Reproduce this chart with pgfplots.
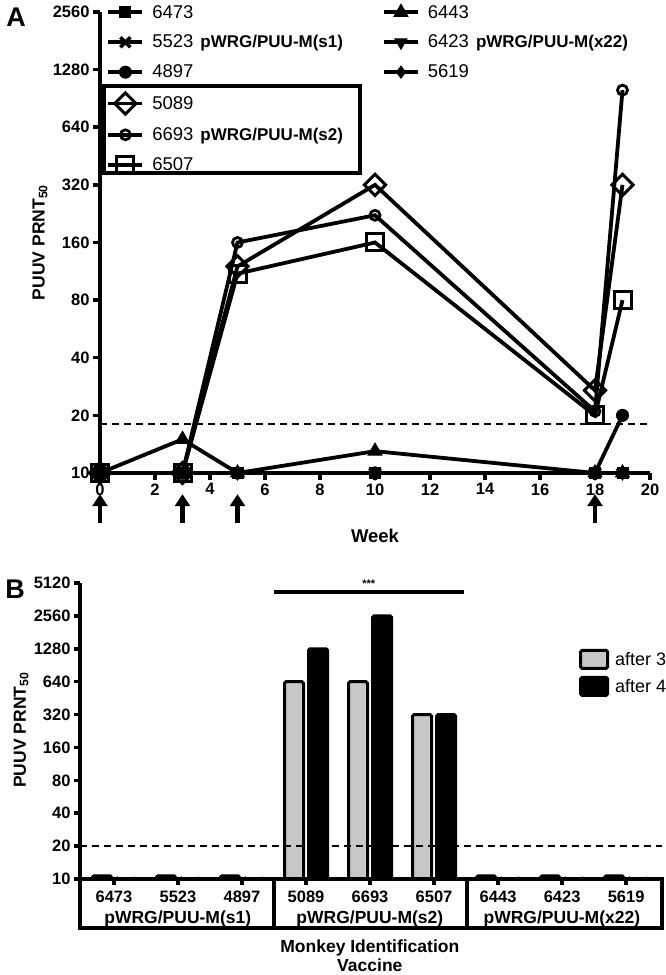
\documentclass[border=0pt]{standalone}
\usepackage{fontspec}
\setmainfont{Liberation Sans}
\usepackage{pgfplots}
\pgfplotsset{compat=1.18}
\usetikzlibrary{arrows.meta}

\pgfplotsset{
  sA/.style={black, line width=3.8pt, mark=square*, mark size=5.5pt, mark options={solid, line width=1pt}},
  sB/.style={black, line width=3.8pt, mark=triangle*, mark size=8pt, mark options={solid, line width=1pt}},
  sC/.style={black, line width=3.8pt, mark=x, mark size=7pt, mark options={solid, line width=3.5pt}},
  sD/.style={black, line width=3.8pt, mark=triangle*, mark size=7pt, mark options={solid, rotate=180, line width=1pt}},
  sE/.style={black, line width=3.8pt, mark=*, mark size=6pt, mark options={solid, line width=1pt}},
  sF/.style={black, line width=3.8pt, mark=diamond*, mark size=6pt, mark options={solid, line width=1pt}},
  sG/.style={black, line width=3.8pt, mark=square, mark size=7.5pt, mark options={solid, rotate=45, fill=white, line width=3pt}},
  sH/.style={black, line width=3.8pt, mark=o, mark size=5pt, mark options={solid, fill=white, line width=2.8pt}},
  sI/.style={black, line width=3.8pt, mark=square, mark size=8.5pt, mark options={solid, fill=white, line width=3pt}},
}
\tikzset{arr/.style={line width=4.5pt, -{Triangle[width=15pt,length=12pt]}}}

\begin{document}
\begin{tikzpicture}
\useasboundingbox (0pt,0pt) rectangle (666pt,975pt);

\node[font=\fontsize{27}{27}\selectfont\bfseries] at (16pt,958pt) {A};
\node[font=\fontsize{27}{27}\selectfont\bfseries] at (15pt,386pt) {B};

% ---------------- Panel A ----------------
\begin{axis}[
  at={(100pt,502pt)}, anchor=south west,
  scale only axis, width=550pt, height=461pt,
  xmin=0, xmax=20, ymin=10, ymax=2560,
  ymode=log, log basis y=2,
  axis x line*=bottom, axis y line*=left,
  axis line style={line width=4pt, -},
  xtick={0,2,...,20},
  ytick={10,20,40,80,160,320,640,1280,2560},
  yticklabels={10,20,40,80,160,320,640,1280,2560},
  tick style={line width=3.5pt, black},
  major tick length=7pt, tick align=outside,
  ticklabel style={font=\fontsize{16.5}{16.5}\selectfont\bfseries},
  /pgf/number format/assume math mode=true,
  clip=false,
  xlabel={Week},
  xlabel style={at={(axis description cs:0.5,-0.137)}, anchor=center, font=\fontsize{18.5}{18.5}\selectfont\bfseries},
  ylabel={PUUV PRNT\textsubscript{50}},
  ylabel style={at={(axis description cs:-0.109,0.5)}, anchor=center, font=\fontsize{17.5}{17.5}\selectfont\bfseries},
  legend columns=2,
  legend cell align=left,
  legend style={draw=none, fill=none, at={(rel axis cs:0.006,1.024)}, anchor=north west,
    font=\fontsize{18.5}{20}\selectfont, row sep=11.5pt,
    /tikz/every odd column/.append style={column sep=6pt},
    /tikz/every even column/.append style={column sep=37pt}},
  legend image code/.code={\draw[#1, mark repeat=2, mark phase=2] plot coordinates {(0pt,0pt) (17pt,0pt) (34pt,0pt)};},
]
% threshold
\addplot[forget plot, black, line width=2.3pt, dash pattern=on 7pt off 5pt] coordinates {(0,18) (20,18)};

% filled series
\addplot[sA, forget plot] coordinates {(0,10) (3,10) (5,10) (10,10) (18,10) (19,10)};
\addplot[sC, forget plot] coordinates {(0,10) (3,10) (5,10) (10,10) (18,10) (19,10)};
\addplot[sD, forget plot] coordinates {(0,10) (3,10) (5,10) (10,10) (18,10) (19,10)};
\addplot[sF, forget plot] coordinates {(0,10) (3,10) (5,10) (10,10) (18,10) (19,10)};
\addplot[sB, forget plot] coordinates {(0,10) (3,15) (5,10) (10,13) (18,10) (19,10)};
\addplot[sE, forget plot] coordinates {(0,10) (3,10) (5,10) (10,10) (18,10) (19,20)};
% open series
\addplot[sI, forget plot] coordinates {(0,10) (3,10) (5,110) (10,160) (18,20) (19,80)};
\addplot[sH, forget plot] coordinates {(0,10) (3,10) (5,160) (10,222) (18,21) (19,1000)};
\addplot[sG, forget plot] coordinates {(0,10) (3,10) (5,120) (10,320) (18,27) (19,320)};

% legend
\addlegendimage{sA}\addlegendentry{6473}
\addlegendimage{sB}\addlegendentry{6443}
\addlegendimage{sC}\addlegendentry{5523\hspace{7pt}{\fontsize{17}{20}\selectfont\bfseries pWRG/PUU-M(s1)}}
\addlegendimage{sD}\addlegendentry{6423\hspace{7pt}{\fontsize{17}{20}\selectfont\bfseries pWRG/PUU-M(x22)}}
\addlegendimage{sE}\addlegendentry{4897}
\addlegendimage{sF}\addlegendentry{5619}
\addlegendimage{sG}\addlegendentry{5089}
\addlegendimage{empty legend}\addlegendentry{}
\addlegendimage{sH}\addlegendentry{6693\hspace{7pt}{\fontsize{17}{20}\selectfont\bfseries pWRG/PUU-M(s2)}}
\addlegendimage{empty legend}\addlegendentry{}
\addlegendimage{sI}\addlegendentry{6507}

\draw[line width=4pt] (rel axis cs:0.0073,0.8395) rectangle (rel axis cs:0.4727,0.6508);

% immunisation arrows
\draw[arr] (rel axis cs:0,-0.108) -- (rel axis cs:0,-0.046);
\draw[arr] (rel axis cs:0.15,-0.108) -- (rel axis cs:0.15,-0.046);
\draw[arr] (rel axis cs:0.25,-0.108) -- (rel axis cs:0.25,-0.046);
\draw[arr] (rel axis cs:0.9,-0.108) -- (rel axis cs:0.9,-0.046);
\end{axis}

% ---------------- Panel B ----------------
\begin{axis}[
  at={(80pt,96pt)}, anchor=south west,
  scale only axis, width=582pt, height=296pt,
  xmin=-0.53, xmax=8.56, ymin=10, ymax=5120,
  ymode=log, log basis y=2, log origin y=infty,
  axis x line*=bottom, axis y line*=left,
  axis line style={line width=4pt, -},
  xtick={0,...,8},
  xticklabels={6473,5523,4897,5089,6693,6507,6443,6423,5619},
  ytick={10,20,40,80,160,320,640,1280,2560,5120},
  yticklabels={10,20,40,80,160,320,640,1280,2560,5120},
  tick style={line width=3.5pt, black},
  major tick length=6pt, tick align=outside,
  ticklabel style={font=\fontsize{16.5}{16.5}\selectfont\bfseries},
  xticklabel style={yshift=-2pt},
  /pgf/number format/assume math mode=true,
  clip=false,
  ylabel={PUUV PRNT\textsubscript{50}},
  ylabel style={at={(axis description cs:-0.101,0.503)}, anchor=center, font=\fontsize{17.5}{17.5}\selectfont\bfseries},
  legend cell align=left,
  legend style={draw=none, fill=none, at={(rel axis cs:0.852,0.785)}, anchor=north west,
    font=\fontsize{18}{20}\selectfont, row sep=6pt},
  legend image code/.code={\draw[#1, line width=3pt] (0pt,-9pt) rectangle (27pt,9pt);},
]
\addplot[ybar, bar width=19pt, bar shift=-12pt, fill=black!22, draw=black, line width=3pt, rounded corners=1.5pt]
  coordinates {(0,10.7) (1,10.7) (2,10.7) (3,640) (4,640) (5,320) (6,10.7) (7,10.7) (8,10.7)};
\addlegendentry{\hspace{4pt}after 3}
\addplot[ybar, bar width=19pt, bar shift=12pt, fill=black, draw=black, line width=3pt, rounded corners=1.5pt]
  coordinates {(0,10) (1,10) (2,10) (3,1280) (4,2560) (5,320) (6,10) (7,10) (8,10)};
\addlegendentry{\hspace{4pt}after 4}

\addplot[forget plot, black, line width=2.3pt, dash pattern=on 7pt off 5pt] coordinates {(-0.53,20) (8.56,20)};

% significance
\draw[line width=3.5pt] (axis cs:2.5,4220) -- (axis cs:5.47,4220);
\node[font=\fontsize{11}{11}\selectfont\bfseries, anchor=south] at (axis cs:3.98,4300) {***};

% category box
\draw[line width=4pt] (rel axis cs:0,0) rectangle (rel axis cs:1,-0.166);
\draw[line width=4pt] (rel axis cs:0.3333,0) -- (rel axis cs:0.3333,-0.166);
\draw[line width=4pt] (rel axis cs:0.665,0) -- (rel axis cs:0.665,-0.166);
\node[font=\fontsize{17.5}{17.5}\selectfont\bfseries] at (rel axis cs:0.168,-0.134) {pWRG/PUU-M(s1)};
\node[font=\fontsize{17.5}{17.5}\selectfont\bfseries] at (rel axis cs:0.498,-0.134) {pWRG/PUU-M(s2)};
\node[font=\fontsize{17.5}{17.5}\selectfont\bfseries] at (rel axis cs:0.828,-0.134) {pWRG/PUU-M(x22)};
\node[font=\fontsize{17.5}{17.5}\selectfont\bfseries] at (rel axis cs:0.498,-0.232) {Monkey Identification};
\node[font=\fontsize{17.5}{17.5}\selectfont\bfseries] at (rel axis cs:0.498,-0.292) {Vaccine};
\end{axis}
\end{tikzpicture}
\end{document}
